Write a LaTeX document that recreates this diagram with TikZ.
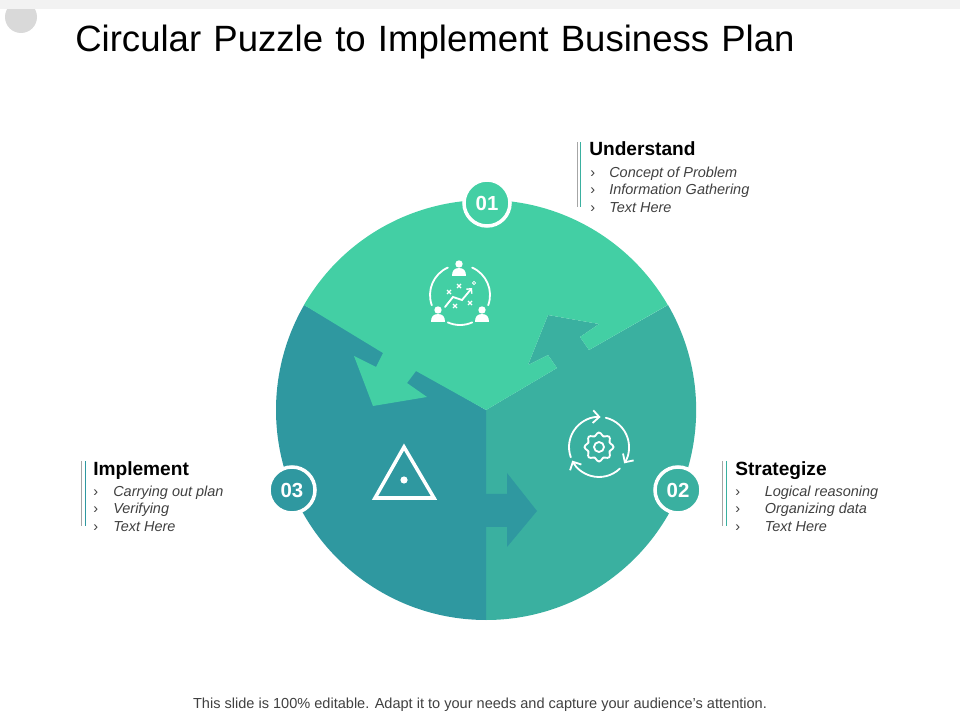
\documentclass[tikz,border=0pt]{standalone}
\usepackage{fontspec}
\setmainfont{Liberation Sans}
\newfontfamily\titlefont[WordSpace=1.2]{Liberation Sans}
\usepackage{tikz}
\usetikzlibrary{calc, arrows.meta}
\definecolor{topgreen}{HTML}{43CFA4}
\definecolor{midteal}{HTML}{3AB0A0}
\definecolor{darkteal}{HTML}{2F98A0}
\definecolor{bodygray}{HTML}{404040}
\definecolor{rulegray}{HTML}{A6A6A6}
\tikzset{
  badge/.style={circle, draw=white, line width=2.5pt, minimum size=1.15cm, inner sep=0pt,
    text=white, font=\fontsize{14.5}{16}\selectfont\bfseries},
  heading/.style={anchor=base west, inner sep=0pt, text=black, font=\fontsize{13.6}{15}\selectfont\bfseries},
  item/.style={anchor=base west, inner sep=0pt, text=bodygray, font=\fontsize{10.3}{12}\selectfont\itshape},
  tick/.style={anchor=base west, inner sep=0pt, text=bodygray, font=\fontsize{10.3}{12}\selectfont},
  icon/.style={draw=white, line width=1.3pt, line cap=round},
  cycle arrow/.style={icon, -{Straight Barb[length=4.5pt, width=9pt, line width=1.3pt]}},
  person/.pic={
    \fill [white] (0,-12) circle [radius=3.7];
    \fill [white] (-7,0) .. controls (-7,-5) and (-5,-8) .. (0,-8) .. controls (5,-8) and (7,-5) .. (7,0) -- cycle;
  }
}

\begin{document}
\begin{tikzpicture}[x=0.025cm, y=-0.025cm, >=latex]
  \useasboundingbox (0,0) rectangle (960,720);
  \coordinate (hub) at (486,410);

  \fill [black!15] (21,17) circle [radius=16];
  \fill [black!5] (0,0) rectangle (960,9);

  \fill [midteal] (668,305) arc [start angle=330, end angle=450, radius=210] -- (hub)
    -- (557,368) -- (548,355) -- (528,365) -- (548,315) -- (599,324) -- (580,337) -- (589,350) -- cycle;
  \fill [darkteal] (486,620) arc [start angle=90, end angle=210, radius=210]
    -- (hub) -- (486,494) -- (507,494) -- (507,473) -- (537,511) -- (507,547) -- (507,527) -- (486,527) -- cycle;
  \fill [topgreen] (304,305) arc [start angle=210, end angle=330, radius=210]
    -- (589,350) -- (580,337) -- (599,324) -- (548,315) -- (528,365) -- (548,355) -- (557,368)
    -- (hub) -- (416,371) -- (407,383) -- (427,397) -- (373,406) -- (354,356) -- (376,367) -- (383,353) -- cycle;

  \node (badge1) at (487,203) [badge, fill=topgreen] {01};
  \node (badge2) at (678,490) [badge, fill=midteal] {02};
  \node (badge3) at (292,490) [badge, fill=darkteal] {03};

  \pic at (459,276) {person};
  \pic at (438,322) {person};
  \pic at (482,322) {person};
  \draw [icon] (460,295) ++(-66:30) arc [start angle=-66, end angle=20, radius=30];
  \draw [icon] (460,295) ++(160:30) arc [start angle=160, end angle=246, radius=30];
  \draw [icon] (460,295) ++(66:30) arc [start angle=66, end angle=114, radius=30];
  \draw [icon, -{Straight Barb[length=2.5pt, width=5pt, line width=1pt]}] (445,307) -- (453,297) -- (462,300) -- (472,288);
  \draw [icon, line width=.6pt] (474,283) circle [radius=1.6];
  \foreach \cx/\cy in {449/292, 459/286, 455/306, 470/303} {
    \draw [icon, line width=.8pt, line cap=butt] (\cx-2,\cy-2) -- (\cx+2,\cy+2) (\cx-2,\cy+2) -- (\cx+2,\cy-2);
  }

  \draw [cycle arrow] (599,447) ++(160:30) arc [start angle=160, end angle=273, radius=30];
  \draw [cycle arrow] (599,447) ++(283:30) arc [start angle=283, end angle=393, radius=30];
  \draw [cycle arrow] (599,447) ++(46:30) arc [start angle=46, end angle=153, radius=30];
  \draw [icon] plot [smooth cycle, samples=48, domain=0:352] ({599+(13+1.5*cos(8*\x))*cos(\x)}, {447+(13+1.5*cos(8*\x))*sin(\x)});
  \draw [icon] (599,447) circle [radius=5];

  \draw [draw=white, line width=2.5pt] (404,447) -- (375,498) -- (434,498) -- cycle;
  \fill [white] (404,480) circle [radius=3.6];

  \node (title) at (75,52) [anchor=base west, inner sep=0pt, text=black, font=\fontsize{26}{30}\titlefont] {Circular Puzzle to Implement Business Plan};

  \draw [rulegray, line width=.7pt] (577,142) -- (577,207);
  \draw [midteal, line width=.7pt] (580,142) -- (580,207);
  \node (head1) at (589,156) [heading] {Understand};
  \node (tick11) at (590,177.5) [tick] {›};
  \node (tick12) at (590,195) [tick] {›};
  \node (tick13) at (590,212.5) [tick] {›};
  \node (item11) at (609,177.5) [item] {Concept of Problem};
  \node (item12) at (609,195) [item] {Information Gathering};
  \node (item13) at (609,212.5) [item] {Text Here};

  \draw [rulegray, line width=.7pt] (722,461) -- (722,526);
  \draw [midteal, line width=.7pt] (726,461) -- (726,526);
  \node (head2) at (735,476) [heading] {Strategize};
  \node (tick21) at (735,496.5) [tick] {›};
  \node (tick22) at (735,514) [tick] {›};
  \node (tick23) at (735,531.5) [tick] {›};
  \node (item21) at (764.5,496.5) [item] {Logical reasoning};
  \node (item22) at (764.5,514) [item] {Organizing data};
  \node (item23) at (764.5,531.5) [item] {Text Here};

  \draw [rulegray, line width=.7pt] (81,461) -- (81,526);
  \draw [darkteal, line width=.7pt] (85,461) -- (85,526);
  \node (head3) at (93,476) [heading] {Implement};
  \node (tick31) at (93,496.5) [tick] {›};
  \node (tick32) at (93,514) [tick] {›};
  \node (tick33) at (93,531.5) [tick] {›};
  \node (item31) at (113,496.5) [item] {Carrying out plan};
  \node (item32) at (113,514) [item] {Verifying};
  \node (item33) at (113,531.5) [item] {Text Here};

  \node (footer) at (480,708) [anchor=base, inner sep=0pt, text=bodygray, font=\fontsize{10.35}{12}\selectfont] {This slide is 100\% editable. Adapt it to your needs and capture your audience’s attention.};
\end{tikzpicture}
\end{document}
